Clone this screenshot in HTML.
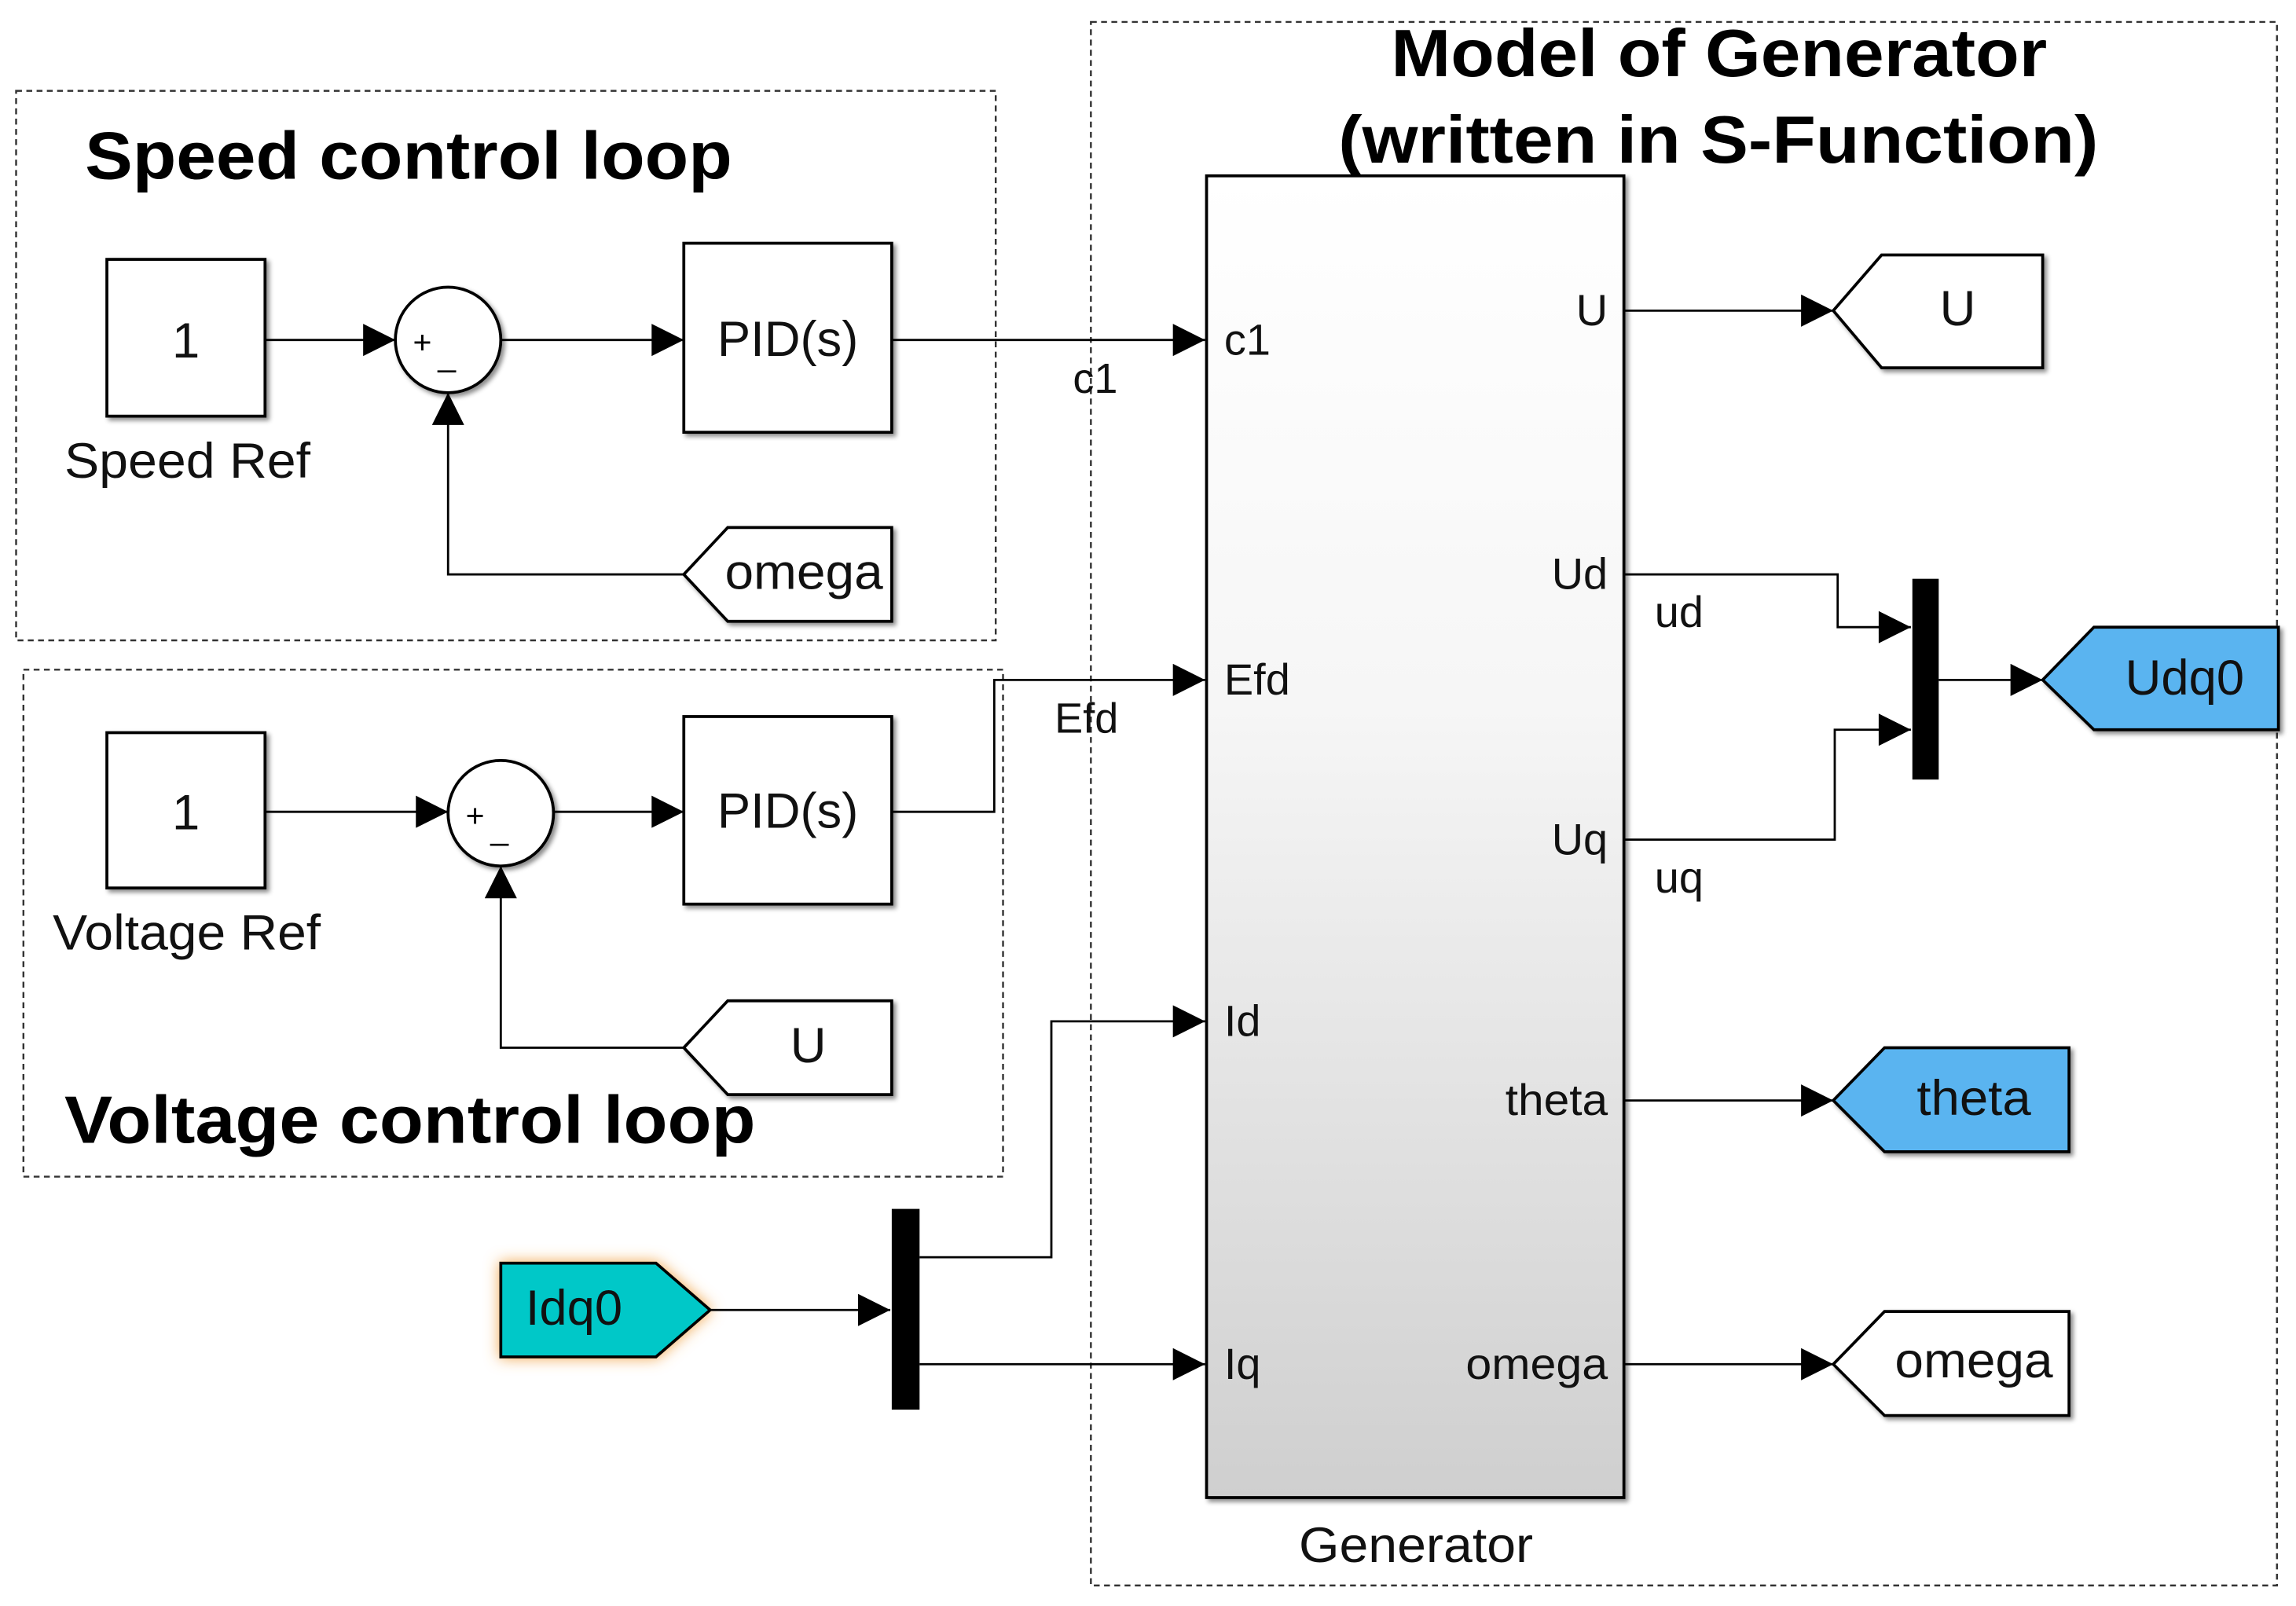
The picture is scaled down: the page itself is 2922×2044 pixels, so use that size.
<!DOCTYPE html>
<html><head><meta charset="utf-8"><style>
html,body{margin:0;padding:0;background:#fff;}
svg{display:block;}
text{font-family:"Liberation Sans",sans-serif;}
</style></head><body>
<svg width="2922" height="2044" viewBox="0 0 1568 1096" preserveAspectRatio="none" xmlns="http://www.w3.org/2000/svg">
<defs>
<linearGradient id="g" x1="0" y1="0" x2="0" y2="1"><stop offset="0" stop-color="#ffffff"/><stop offset="0.4" stop-color="#f6f6f6"/><stop offset="1" stop-color="#cfcfcf"/></linearGradient>
<filter id="sh" x="-10%" y="-10%" width="130%" height="130%"><feDropShadow dx="2" dy="2" stdDeviation="1.5" flood-color="#000" flood-opacity="0.45"/></filter>
<filter id="glow" x="-30%" y="-40%" width="160%" height="180%"><feDropShadow dx="0" dy="0" stdDeviation="5" flood-color="#f0a040" flood-opacity="0.9"/></filter>
<marker id="a" viewBox="0 0 10 10" refX="10" refY="5" markerWidth="26" markerHeight="22" markerUnits="userSpaceOnUse" orient="auto"><path d="M0,0 L10,5 L0,10 z" fill="#000"/></marker>
</defs>
<g fill="none" stroke="#333" stroke-width="1.3" stroke-dasharray="4,3">
<rect x="11" y="62" width="669" height="375"/>
<rect x="16" y="457" width="669" height="346"/>
<rect x="745" y="15" width="810" height="1067"/>
</g>
<g font-weight="bold" font-size="46" fill="#000">
<text x="950" y="52" textLength="448" lengthAdjust="spacingAndGlyphs">Model of Generator</text>
<text x="914" y="111" textLength="519" lengthAdjust="spacingAndGlyphs">(written in S-Function)</text>
<text x="58" y="122" textLength="442" lengthAdjust="spacingAndGlyphs">Speed control loop</text>
<text x="44" y="780" textLength="472" lengthAdjust="spacingAndGlyphs">Voltage control loop</text>
</g>
<g fill="#fff" stroke="#000" stroke-width="2" filter="url(#sh)">
<rect x="73" y="177" width="108" height="107"/>
<rect x="73" y="500" width="108" height="106"/>
<rect x="467" y="166" width="142" height="129"/>
<rect x="467" y="489" width="142" height="128"/>
<circle cx="306" cy="232" r="36"/>
<circle cx="342" cy="555" r="36"/>
<polygon points="467,392 497,360 609,360 609,424 497,424"/>
<polygon points="467,715 497,683 609,683 609,747 497,747"/>
<rect x="824" y="120" width="285" height="902" fill="url(#g)"/>
<polygon points="1252,212 1285,174 1395,174 1395,251 1285,251"/>
<polygon points="1395,464 1430,428 1556,428 1556,498 1430,498" fill="#5ab4f0"/>
<polygon points="1252,751 1287,715 1413,715 1413,786 1287,786" fill="#5ab4f0"/>
<polygon points="1252,931 1287,895 1413,895 1413,966 1287,966"/>
</g>
<polygon points="342,862 448,862 485,894 448,926 342,926" fill="#00c8c8" stroke="#000" stroke-width="2" filter="url(#glow)"/>
<rect x="1306" y="395" width="18" height="137" fill="#000"/>
<rect x="609" y="825" width="19" height="137" fill="#000"/>
<g fill="none" stroke="#000" stroke-width="1.5" marker-end="url(#a)">
<path d="M181,232 H270"/>
<path d="M342,232 H467"/>
<path d="M467,392 H306 V268"/>
<path d="M609,232 H823"/>
<path d="M181,554 H306"/>
<path d="M378,554 H467"/>
<path d="M467,715 H342 V591"/>
<path d="M609,554 H679 V464 H823"/>
<path d="M1109,212 H1252"/>
<path d="M1109,392 H1255 V428 H1305"/>
<path d="M1109,573 H1253 V498 H1305"/>
<path d="M1324,464 H1395"/>
<path d="M1109,751 H1252"/>
<path d="M1109,931 H1252"/>
<path d="M485,894 H608"/>
<path d="M628,858 H718 V697 H823"/>
<path d="M628,931 H823"/>
</g>
<g font-size="34" fill="#111">
<text x="127" y="244" text-anchor="middle">1</text>
<text x="127" y="566" text-anchor="middle">1</text>
<text x="44" y="326" textLength="168" lengthAdjust="spacingAndGlyphs">Speed Ref</text>
<text x="36" y="648" textLength="183" lengthAdjust="spacingAndGlyphs">Voltage Ref</text>
<text x="538" y="243" text-anchor="middle">PID(s)</text>
<text x="538" y="565" text-anchor="middle">PID(s)</text>
<text x="495" y="402" textLength="108" lengthAdjust="spacingAndGlyphs">omega</text>
<text x="552" y="725" text-anchor="middle">U</text>
<text x="748" y="268" text-anchor="middle" font-size="29">c1</text>
<text x="742" y="500" text-anchor="middle" font-size="29">Efd</text>
<text x="887" y="1066" textLength="160" lengthAdjust="spacingAndGlyphs">Generator</text>
<text x="1337" y="222" text-anchor="middle">U</text>
<text x="1492" y="474" text-anchor="middle">Udq0</text>
<text x="1309" y="761" textLength="78" lengthAdjust="spacingAndGlyphs">theta</text>
<text x="1294" y="940" textLength="108" lengthAdjust="spacingAndGlyphs">omega</text>
<text x="392" y="904" text-anchor="middle">Idq0</text>
</g>
<g font-size="30" fill="#111">
<text x="836" y="242">c1</text>
<text x="836" y="474">Efd</text>
<text x="836" y="707">Id</text>
<text x="836" y="941">Iq</text>
<text x="1098" y="222" text-anchor="end">U</text>
<text x="1098" y="402" text-anchor="end">Ud</text>
<text x="1098" y="583" text-anchor="end">Uq</text>
<text x="1028" y="761" textLength="70" lengthAdjust="spacingAndGlyphs">theta</text>
<text x="1001" y="941" textLength="97" lengthAdjust="spacingAndGlyphs">omega</text>
<text x="1130" y="428">ud</text>
<text x="1130" y="609">uq</text>
</g>
<g font-size="22" fill="#000">
<text x="282" y="241">+</text><text x="299" y="250">_</text>
<text x="318" y="564">+</text><text x="335" y="573">_</text>
</g>
</svg>
</body></html>
